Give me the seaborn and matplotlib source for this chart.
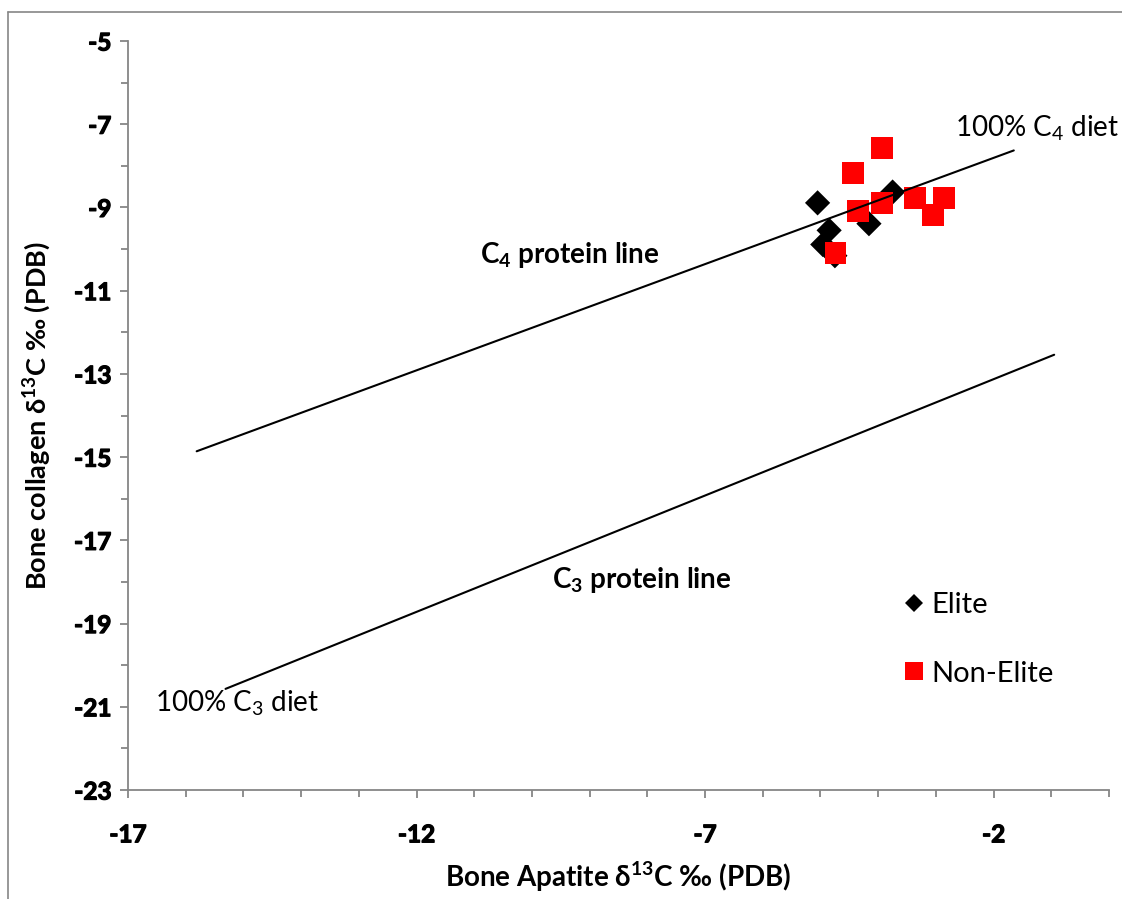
import matplotlib
matplotlib.use("Agg")
import matplotlib.pyplot as plt
import matplotlib.patheffects as pe
import seaborn as sns
import pandas as pd
from matplotlib.lines import Line2D
from matplotlib.ticker import MultipleLocator, FixedLocator

# ---------------- data ----------------
elite_x = [-5.05, -4.85, -4.96, -4.75, -4.16, -3.75]
elite_y = [-8.89, -9.55, -9.89, -10.16, -9.39, -8.63]

nonelite_x = [-3.94, -4.44, -4.35, -3.94, -3.36, -2.86, -3.05, -4.74]
nonelite_y = [-7.57, -8.17, -9.09, -8.90, -8.78, -8.78, -9.19, -10.10]

c4_line_x = [-15.81, -1.65]
c4_line_y = [-14.86, -7.63]
c3_line_x = [-15.31, -0.95]
c3_line_y = [-20.57, -12.54]

x_ticks = [-17, -12, -7, -2]
y_ticks = [-5, -7, -9, -11, -13, -15, -17, -19, -21, -23]

series_labels = ["Elite", "Non-Elite"]
x_label = "Bone Apatite δ$^{13}$C ‰ (PDB)"
y_label = "Bone collagen δ$^{13}$C ‰ (PDB)"

# ---------------- style ----------------
sns.set_theme(style="white")
plt.rcParams["font.family"] = ["Lato", "DejaVu Sans"]
plt.rcParams["mathtext.fontset"] = "custom"
plt.rcParams["mathtext.rm"] = "Lato"
plt.rcParams["mathtext.bf"] = "Lato:bold"
plt.rcParams["mathtext.default"] = "regular"
plt.rcParams["text.color"] = "black"
plt.rcParams["axes.labelcolor"] = "black"
plt.rcParams["xtick.labelcolor"] = "black"
plt.rcParams["ytick.labelcolor"] = "black"

AX_GRAY = "#868686"

fig = plt.figure(figsize=(11.22, 8.99), dpi=100)
ax = fig.add_axes([128 / 1122, 1 - 790 / 899, (1109 - 128) / 1122, (790 - 41) / 899])

elite_df = pd.DataFrame({"x": elite_x, "y": elite_y})
nonelite_df = pd.DataFrame({"x": nonelite_x, "y": nonelite_y})
c4_df = pd.DataFrame({"x": c4_line_x, "y": c4_line_y})
c3_df = pd.DataFrame({"x": c3_line_x, "y": c3_line_y})

sns.scatterplot(data=elite_df, x="x", y="y", marker="D", s=165, color="black",
                edgecolor="none", linewidth=0, ax=ax, zorder=3)
sns.scatterplot(data=nonelite_df, x="x", y="y", marker="s", s=245, color="#FF0000",
                edgecolor="none", linewidth=0, ax=ax, zorder=4)
sns.lineplot(data=c4_df, x="x", y="y", sort=False, color="black", linewidth=1.5,
             ax=ax, zorder=5)
sns.lineplot(data=c3_df, x="x", y="y", sort=False, color="black", linewidth=1.5,
             ax=ax, zorder=5)

ax.set_xlim(-17, 0)
ax.set_ylim(-23, -5)
ax.xaxis.set_major_locator(FixedLocator(x_ticks))
ax.xaxis.set_minor_locator(MultipleLocator(1))
ax.yaxis.set_major_locator(FixedLocator(y_ticks))
ax.yaxis.set_minor_locator(MultipleLocator(1))

for side in ["top", "right"]:
    ax.spines[side].set_visible(False)
for side in ["left", "bottom"]:
    ax.spines[side].set_color(AX_GRAY)
    ax.spines[side].set_linewidth(1.3)

ax.tick_params(axis="both", which="both", direction="out", color=AX_GRAY, width=1.3)
ax.tick_params(axis="both", which="major", length=6)
ax.tick_params(axis="both", which="minor", length=5)
ax.tick_params(axis="x", which="both", bottom=True, pad=18)
ax.tick_params(axis="y", which="both", left=True, pad=6)
ax.set_xticklabels([str(v) for v in x_ticks], fontsize=17.5, fontweight="bold",
                   color="black")
ax.set_yticklabels([str(v) for v in y_ticks], fontsize=17.5, fontweight="bold",
                   color="black")
# thicken the tick-label strokes to match the heavy bold of the reference
for lab in ax.get_xticklabels() + ax.get_yticklabels():
    lab.set_path_effects([pe.withStroke(linewidth=0.9, foreground="black")])

ax.set_xlabel(x_label, fontsize=20, fontweight="bold", color="black", labelpad=10)
ax.set_ylabel(y_label, fontsize=19.5, fontweight="bold", color="black", labelpad=15)
ax.grid(False)

# annotations
ax.text(-9.34, -10.14, "C$_4$ protein line", fontsize=20, fontweight="bold",
        ha="center", va="center")
ax.text(-8.09, -17.96, "C$_3$ protein line", fontsize=20, fontweight="bold",
        ha="center", va="center")
ax.text(-2.67, -7.09, "100% C$_4$ diet", fontsize=20, fontweight="normal",
        ha="left", va="center")
ax.text(-16.53, -20.91, "100% C$_3$ diet", fontsize=20, fontweight="normal",
        ha="left", va="center")

# legend
handles = [
    Line2D([0], [0], marker="D", linestyle="none", color="black", markersize=9,
           markeredgewidth=0),
    Line2D([0], [0], marker="s", linestyle="none", color="#FF0000", markersize=13.5,
           markeredgewidth=0),
]
ax.legend(handles, series_labels, loc="center left", bbox_to_anchor=(0.760, 0.201),
          frameon=False, prop={"size": 21, "weight": "normal"}, handlelength=1.0,
          handletextpad=0.08, labelspacing=1.45)

# chart-area border (top and left visible)
fig.add_artist(Line2D([8 / 1122, 8 / 1122], [0, 1 - 11.5 / 899], color=AX_GRAY,
                      lw=1.2, transform=fig.transFigure))
fig.add_artist(Line2D([8 / 1122, 1], [1 - 11.5 / 899, 1 - 11.5 / 899], color=AX_GRAY,
                      lw=1.2, transform=fig.transFigure))

fig.savefig("out.png", dpi=100)
